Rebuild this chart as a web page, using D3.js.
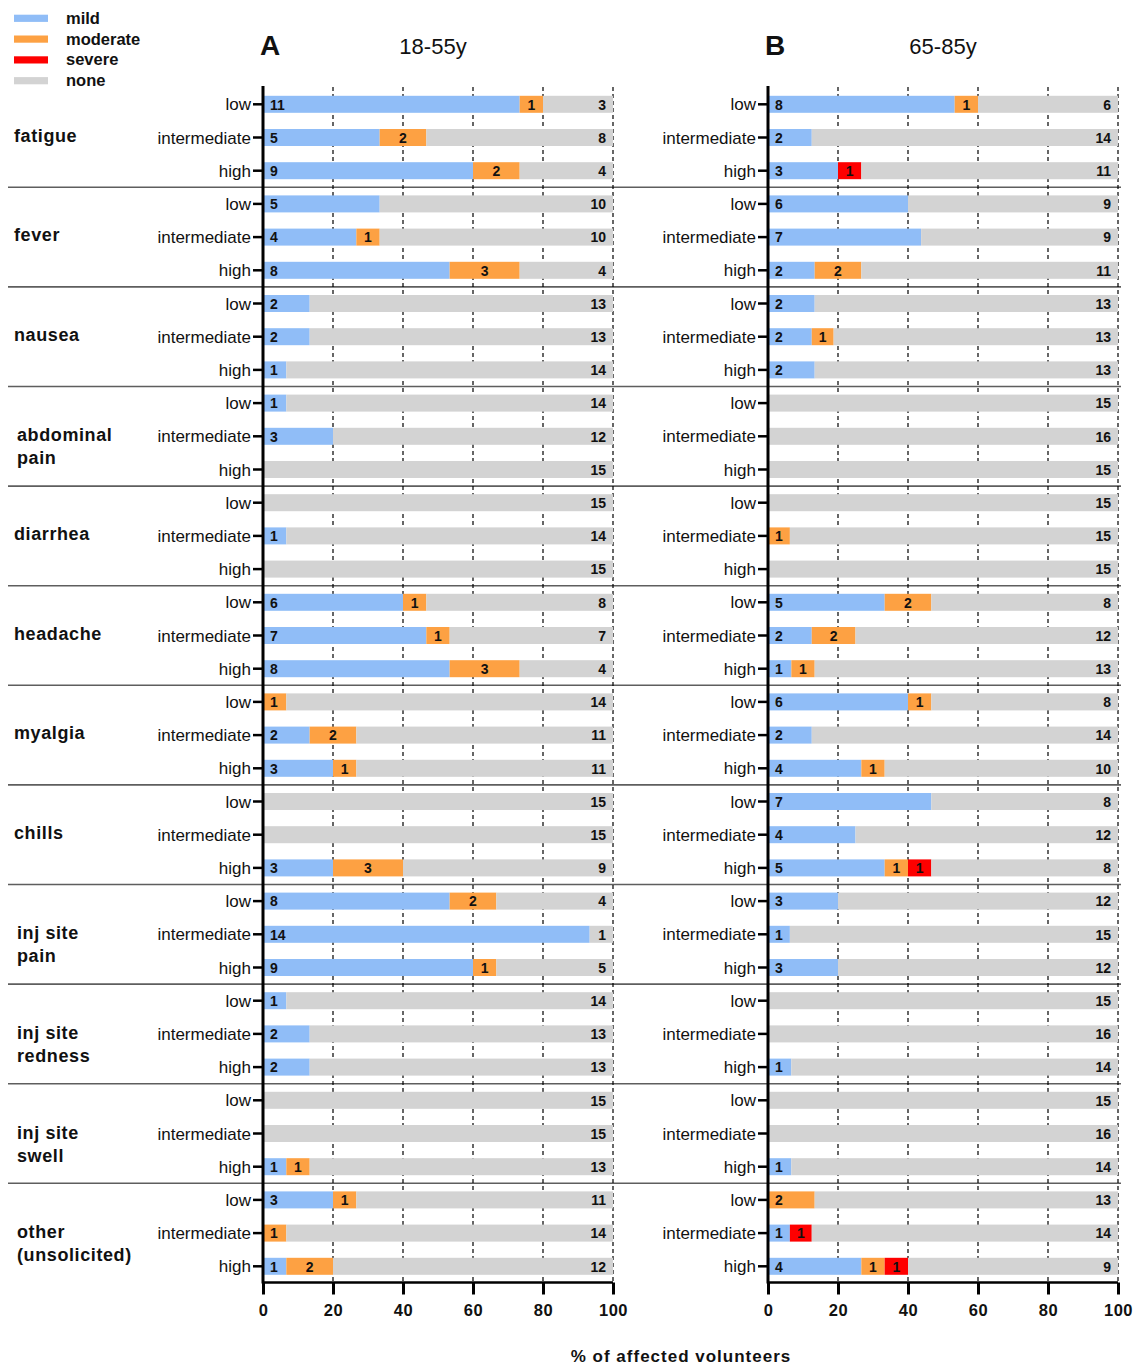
<!DOCTYPE html>
<html>
<head>
<meta charset="utf-8">
<script src="https://cdn.jsdelivr.net/npm/d3@7"></script>
<style>
  html, body { margin: 0; padding: 0; background: #fff; }
  svg { display: block; font-family: "Liberation Sans", Arial, sans-serif; }
</style>
</head>
<body>
<div id="chart"></div>
<script>
// ---------- DATA ----------
const symptoms = ["fatigue", "fever", "nausea", "abdominal pain", "diarrhea", "headache",
  "myalgia", "chills", "inj site pain", "inj site redness", "inj site swell", "other (unsolicited)"];
const symptomLines = [["fatigue"], ["fever"], ["nausea"], ["abdominal", "pain"], ["diarrhea"], ["headache"],
  ["myalgia"], ["chills"], ["inj site", "pain"], ["inj site", "redness"], ["inj site", "swell"], ["other", "(unsolicited)"]];
const doses = ["low", "intermediate", "high"];
const severities = ["mild", "moderate", "severe", "none"];
const panelTitles = ["18-55y", "65-85y"];
const panelLetters = ["A", "B"];
const xTicks = [0, 20, 40, 60, 80, 100];

// volunteers per dose group (low, intermediate, high)
const groupSizeYoung = [15, 15, 15];
const groupSizeOld = [15, 16, 15];

// counts per row: [mild, moderate, severe, none]; rows = symptom x dose (low, intermediate, high)
const countsYoung = [
  [11,1,0,3], [5,2,0,8], [9,2,0,4],      // fatigue
  [5,0,0,10], [4,1,0,10], [8,3,0,4],     // fever
  [2,0,0,13], [2,0,0,13], [1,0,0,14],    // nausea
  [1,0,0,14], [3,0,0,12], [0,0,0,15],    // abdominal pain
  [0,0,0,15], [1,0,0,14], [0,0,0,15],    // diarrhea
  [6,1,0,8], [7,1,0,7], [8,3,0,4],       // headache
  [0,1,0,14], [2,2,0,11], [3,1,0,11],    // myalgia
  [0,0,0,15], [0,0,0,15], [3,3,0,9],     // chills
  [8,2,0,4], [14,0,0,1], [9,1,0,5],      // inj site pain
  [1,0,0,14], [2,0,0,13], [2,0,0,13],    // inj site redness
  [0,0,0,15], [0,0,0,15], [1,1,0,13],    // inj site swell
  [3,1,0,11], [0,1,0,14], [1,2,0,12]     // other
];
const countsOld = [
  [8,1,0,6], [2,0,0,14], [3,0,1,11],     // fatigue
  [6,0,0,9], [7,0,0,9], [2,2,0,11],      // fever
  [2,0,0,13], [2,1,0,13], [2,0,0,13],    // nausea
  [0,0,0,15], [0,0,0,16], [0,0,0,15],    // abdominal pain
  [0,0,0,15], [0,1,0,15], [0,0,0,15],    // diarrhea
  [5,2,0,8], [2,2,0,12], [1,1,0,13],     // headache
  [6,1,0,8], [2,0,0,14], [4,1,0,10],     // myalgia
  [7,0,0,8], [4,0,0,12], [5,1,1,8],      // chills
  [3,0,0,12], [1,0,0,15], [3,0,0,12],    // inj site pain
  [0,0,0,15], [0,0,0,16], [1,0,0,14],    // inj site redness
  [0,0,0,15], [0,0,0,16], [1,0,0,14],    // inj site swell
  [0,2,0,13], [1,0,1,14], [4,1,1,9]      // other
];
const panelCounts = [countsYoung, countsOld];
const panelGroupSizes = [groupSizeYoung, groupSizeOld];

// ---------- STYLE ----------
const colors = { mild: "#90bdf7", moderate: "#fda143", severe: "#fe0000", none: "#d3d3d3" };
const W = 1133, H = 1365;

const svg = d3.select("#chart").append("svg").attr("width", W).attr("height", H);

const rowKeys = [];
symptoms.forEach((s, si) => doses.forEach((d, di) => rowKeys.push(si * 3 + di)));

const y = d3.scaleBand().domain(rowKeys).range([87.7, 1282.9]).paddingInner(0).paddingOuter(0);
const barH = 17;

const panelRanges = [[263, 613], [768, 1118]];
const titleShift = [-5, 0];

// group separators (spanning both panels)
for (let k = 1; k < symptoms.length; k++) {
  const yy = y(k * 3);
  svg.append("line").attr("x1", 8).attr("x2", 1121).attr("y1", yy).attr("y2", yy)
    .attr("stroke", "#5e5e5e").attr("stroke-width", 1.6);
}

panelRanges.forEach((rng, pi) => {
  const x = d3.scaleLinear().domain([0, 100]).range(rng);
  const g = svg.append("g");
  const data = panelCounts[pi];
  const sizes = panelGroupSizes[pi];

  // dashed gridlines
  g.selectAll("line.grid").data(xTicks.slice(1)).enter().append("line")
    .attr("class", "grid")
    .attr("x1", d => x(d)).attr("x2", d => x(d))
    .attr("y1", 87).attr("y2", 1282)
    .attr("stroke", "#000").attr("stroke-width", 1.2)
    .attr("stroke-dasharray", "4,3");

  // bars
  data.forEach((row, ri) => {
    const total = sizes[ri % 3];
    let cum = 0;
    const segs = [];
    row.forEach((v, si) => {
      const p0 = cum / total * 100;
      cum += v;
      const p1 = severities[si] === "none" ? 100 : cum / total * 100;
      segs.push({ sev: severities[si], v, p0, p1 });
    });
    const yy = y(ri) + (y.bandwidth() - barH) / 2;
    const cy = y(ri) + y.bandwidth() / 2;
    const rg = g.append("g");
    rg.selectAll("rect").data(segs.filter(s => s.v > 0)).enter().append("rect")
      .attr("x", s => x(s.p0)).attr("width", s => x(s.p1) - x(s.p0))
      .attr("y", yy).attr("height", barH)
      .attr("fill", s => colors[s.sev]);
    const nonzero = segs.filter(s => s.v > 0);
    nonzero.forEach((s, k) => {
      let tx, anchor;
      if (s.sev === "none") { tx = x(s.p1) - 7; anchor = "end"; }
      else if (k === 0) { tx = x(s.p0) + 7; anchor = "start"; }
      else { tx = (x(s.p0) + x(s.p1)) / 2; anchor = "middle"; }
      rg.append("text").attr("x", tx).attr("y", cy + 5.2)
        .attr("text-anchor", anchor)
        .attr("font-size", 14).attr("font-weight", "bold").attr("fill", "#111")
        .text(s.v);
    });
  });

  // y axis line
  g.append("line").attr("x1", rng[0]).attr("x2", rng[0]).attr("y1", 86).attr("y2", 1283.5)
    .attr("stroke", "#000").attr("stroke-width", 3);

  // row tick marks and labels
  rowKeys.forEach(ri => {
    const cy = y(ri) + y.bandwidth() / 2;
    g.append("line").attr("x1", rng[0] - 10).attr("x2", rng[0]).attr("y1", cy).attr("y2", cy)
      .attr("stroke", "#000").attr("stroke-width", 2.5);
    g.append("text").attr("x", rng[0] - 12).attr("y", cy + 6)
      .attr("text-anchor", "end").attr("font-size", 17).attr("fill", "#111")
      .text(doses[ri % 3]);
  });

  // x axis
  const xAxis = d3.axisBottom(x).tickValues(xTicks).tickSize(12).tickPadding(10).tickFormat(d3.format("d"));
  const ax = g.append("g").attr("transform", "translate(0,1282.5)").call(xAxis);
  ax.select(".domain").attr("stroke", "#000").attr("stroke-width", 2.6)
    .attr("d", `M${rng[0]},0H${rng[1]}`);
  ax.selectAll(".tick line").attr("stroke", "#000").attr("stroke-width", 3);
  ax.selectAll(".tick text").attr("font-size", 16.5).attr("font-weight", "bold")
    .attr("fill", "#111").attr("font-family", "Liberation Sans, Arial, sans-serif")
    .attr("letter-spacing", "0.5px");

  // panel titles
  svg.append("text").attr("x", rng[0] - 3).attr("y", 55)
    .attr("font-size", 28).attr("font-weight", "bold").attr("fill", "#111")
    .text(panelLetters[pi]);
  svg.append("text").attr("x", (rng[0] + rng[1]) / 2 + titleShift[pi]).attr("y", 54)
    .attr("text-anchor", "middle").attr("font-size", 22).attr("fill", "#111")
    .text(panelTitles[pi]);
});

// group labels
symptomLines.forEach((lines, si) => {
  const cy = y(si * 3 + 1) + y.bandwidth() / 2;
  const t = svg.append("text").attr("font-size", 18).attr("font-weight", "bold")
    .attr("fill", "#111").attr("letter-spacing", "0.6px");
  lines.forEach((ln, li) => {
    t.append("tspan").attr("x", lines.length > 1 ? 17 : 14)
      .attr("y", cy + (lines.length > 1 ? 5 : 4) + li * 23).text(ln);
  });
});

// legend
severities.forEach((s, i) => {
  const ly = 18.3 + i * 20.8;
  svg.append("rect").attr("x", 14).attr("y", ly - 3.6).attr("width", 34).attr("height", 7.2)
    .attr("fill", colors[s]);
  svg.append("text").attr("x", 66).attr("y", ly + 5.5)
    .attr("font-size", 16.5).attr("font-weight", "bold").attr("fill", "#111")
    .text(s);
});

// x axis title
svg.append("text").attr("x", 681).attr("y", 1362).attr("text-anchor", "middle")
  .attr("font-size", 17).attr("font-weight", "bold").attr("letter-spacing", "1px").attr("fill", "#111")
  .text("% of affected volunteers");
</script>
</body>
</html>
